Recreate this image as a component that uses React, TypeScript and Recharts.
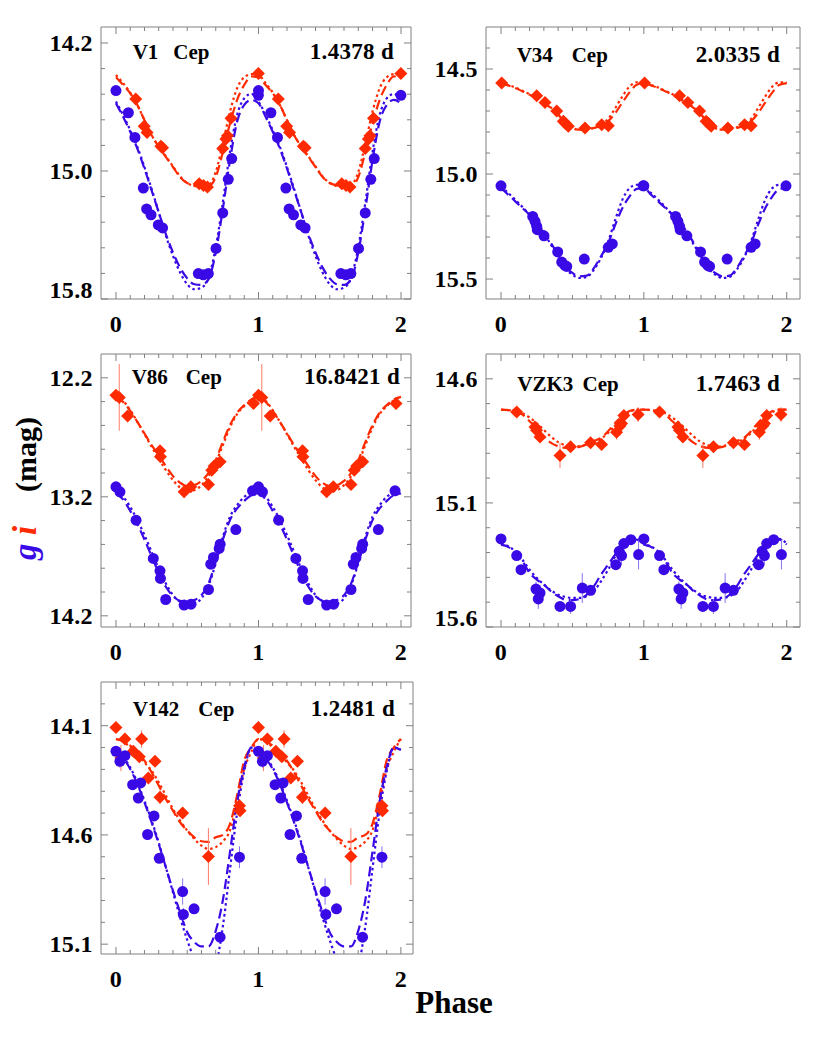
import React from 'react';
import { ComposedChart, Scatter, Line, XAxis, YAxis, ErrorBar } from 'recharts';

const RED = '#ff2a00';
const BLUE = '#3a0ae6';
const FRAME = '#808080';
const FONT = '"Liberation Serif", "Times New Roman", Times, serif';

// ---------- shared ----------
const fitPhase = [0, 0.05, 0.1, 0.15, 0.2, 0.25, 0.3, 0.35, 0.4, 0.45, 0.5, 0.55, 0.6, 0.65, 0.7, 0.75, 0.8, 0.85, 0.9, 0.95];
const xMajor = [0, 1, 2];
const xMinor = [0.1, 0.2, 0.3, 0.4, 0.5, 0.6, 0.7, 0.8, 0.9, 1.1, 1.2, 1.3, 1.4, 1.5, 1.6, 1.7, 1.8, 1.9];

// ---------- V1 Cep ----------
const v1PhaseI = [0.139, 0.198, 0.218, 0.315, 0.327, 0.584, 0.614, 0.642, 0.749, 0.771, 0.782, 0.807, 0.999];
const v1MagI = [14.55, 14.72, 14.76, 14.845, 14.855, 15.08, 15.09, 15.1, 14.86, 14.8, 14.78, 14.67, 14.39];
const v1PhaseG = [0.0, 0.087, 0.133, 0.192, 0.215, 0.246, 0.297, 0.327, 0.578, 0.613, 0.648, 0.702, 0.749, 0.788, 0.812, 0.999];
const v1MagG = [14.497, 14.636, 14.79, 15.107, 15.237, 15.274, 15.337, 15.356, 15.641, 15.649, 15.641, 15.484, 15.262, 15.052, 14.922, 14.527];
const v1DashI = [14.414, 14.462, 14.514, 14.587, 14.682, 14.776, 14.849, 14.912, 14.975, 15.038, 15.075, 15.09, 15.094, 15.094, 15.038, 14.881, 14.703, 14.556, 14.462, 14.409];
const v1DotI = [14.4, 14.451, 14.51, 14.587, 14.682, 14.776, 14.845, 14.908, 14.971, 15.034, 15.075, 15.094, 15.1, 15.09, 15.006, 14.828, 14.629, 14.483, 14.414, 14.395];
const v1DashG = [14.577, 14.661, 14.755, 14.86, 14.985, 15.121, 15.258, 15.394, 15.509, 15.604, 15.671, 15.708, 15.712, 15.676, 15.509, 15.237, 14.933, 14.692, 14.587, 14.556];
const v1DotG = [14.566, 14.65, 14.745, 14.849, 14.975, 15.111, 15.258, 15.404, 15.53, 15.635, 15.708, 15.739, 15.729, 15.666, 15.477, 15.195, 14.881, 14.65, 14.546, 14.518];

// ---------- V34 Cep ----------
const v34PhaseI = [0.005, 0.25, 0.308, 0.39, 0.436, 0.452, 0.471, 0.588, 0.705, 0.751];
const v34MagI = [14.567, 14.627, 14.659, 14.7, 14.749, 14.76, 14.773, 14.781, 14.765, 14.77];
const v34PhaseG = [0.0, 0.222, 0.238, 0.25, 0.254, 0.301, 0.397, 0.425, 0.448, 0.46, 0.583, 0.751, 0.779, 0.995];
const v34MagG = [15.056, 15.202, 15.225, 15.249, 15.265, 15.294, 15.371, 15.419, 15.435, 15.44, 15.405, 15.349, 15.333, 15.056];
const v34DashI = [14.567, 14.578, 14.59, 14.606, 14.622, 14.643, 14.662, 14.686, 14.717, 14.757, 14.781, 14.789, 14.789, 14.781, 14.77, 14.749, 14.71, 14.659, 14.611, 14.575];
const v34DotI = [14.565, 14.576, 14.588, 14.604, 14.62, 14.641, 14.66, 14.684, 14.717, 14.755, 14.781, 14.789, 14.787, 14.778, 14.762, 14.738, 14.686, 14.63, 14.583, 14.563];
const v34DashG = [15.067, 15.098, 15.13, 15.162, 15.194, 15.233, 15.273, 15.329, 15.384, 15.44, 15.471, 15.487, 15.484, 15.448, 15.392, 15.329, 15.241, 15.162, 15.106, 15.071];
const v34DotG = [15.059, 15.09, 15.122, 15.157, 15.194, 15.237, 15.281, 15.337, 15.392, 15.448, 15.479, 15.495, 15.49, 15.456, 15.4, 15.321, 15.217, 15.122, 15.067, 15.051];

// ---------- V86 Cep ----------
const v86PhaseI = [0.0, 0.023, 0.082, 0.309, 0.312, 0.478, 0.525, 0.649, 0.672, 0.689, 0.707, 0.731, 0.965];
const v86MagI = [12.346, 12.365, 12.522, 12.813, 12.864, 13.158, 13.116, 13.096, 12.976, 12.942, 12.925, 12.906, 12.416];
const v86ErrI = [0.02, 0.28, 0.02, 0.02, 0.03, 0.05, 0.02, 0.02, 0.04, 0.03, 0.04, 0.02, 0.02];
const v86PhaseG = [0.0, 0.028, 0.141, 0.262, 0.309, 0.312, 0.349, 0.478, 0.527, 0.649, 0.665, 0.684, 0.724, 0.731, 0.841, 0.958];
const v86MagG = [13.116, 13.158, 13.396, 13.718, 13.822, 13.886, 14.063, 14.11, 14.102, 13.979, 13.766, 13.71, 13.634, 13.598, 13.475, 13.15];
const v86DashI = [12.36, 12.402, 12.477, 12.57, 12.668, 12.766, 12.85, 12.942, 13.026, 13.082, 13.11, 13.102, 13.066, 12.998, 12.892, 12.738, 12.598, 12.494, 12.43, 12.382];
const v86DotI = [12.354, 12.393, 12.472, 12.57, 12.673, 12.78, 12.878, 12.976, 13.06, 13.122, 13.15, 13.144, 13.102, 13.026, 12.914, 12.766, 12.617, 12.505, 12.438, 12.388];
const v86DashG = [13.172, 13.222, 13.318, 13.43, 13.559, 13.699, 13.839, 13.956, 14.035, 14.074, 14.082, 14.068, 14.026, 13.928, 13.746, 13.559, 13.396, 13.298, 13.234, 13.186];
const v86DotG = [13.158, 13.2, 13.284, 13.396, 13.522, 13.662, 13.802, 13.928, 14.026, 14.082, 14.102, 14.096, 14.054, 13.942, 13.76, 13.536, 13.368, 13.27, 13.2, 13.166];

// ---------- VZK3 Cep ----------
const vzkPhaseI = [0.11, 0.238, 0.249, 0.273, 0.413, 0.487, 0.627, 0.704, 0.809, 0.832, 0.844, 0.86, 0.96];
const vzkMagI = [14.734, 14.794, 14.807, 14.834, 14.909, 14.874, 14.858, 14.865, 14.815, 14.79, 14.78, 14.748, 14.744];
const vzkErrI = [0.01, 0.01, 0.02, 0.01, 0.05, 0.01, 0.01, 0.01, 0.03, 0.04, 0.02, 0.01, 0.03];
const vzkPhaseG = [0.0, 0.11, 0.14, 0.245, 0.261, 0.273, 0.413, 0.487, 0.569, 0.627, 0.804, 0.828, 0.844, 0.86, 0.909, 0.963];
const vzkMagG = [15.245, 15.312, 15.369, 15.447, 15.487, 15.463, 15.517, 15.517, 15.443, 15.452, 15.349, 15.295, 15.312, 15.264, 15.248, 15.308];
const vzkErrG = [0.01, 0.01, 0.01, 0.03, 0.04, 0.01, 0.01, 0.03, 0.06, 0.01, 0.01, 0.01, 0.04, 0.01, 0.01, 0.06];
const vzkDashI = [14.724, 14.726, 14.73, 14.744, 14.771, 14.798, 14.834, 14.858, 14.872, 14.878, 14.878, 14.874, 14.865, 14.851, 14.838, 14.811, 14.777, 14.751, 14.73, 14.724];
const vzkDotI = [14.724, 14.726, 14.73, 14.739, 14.756, 14.779, 14.806, 14.833, 14.855, 14.868, 14.874, 14.871, 14.865, 14.855, 14.842, 14.818, 14.788, 14.757, 14.734, 14.724];
const vzkDashG = [15.268, 15.277, 15.302, 15.335, 15.382, 15.409, 15.429, 15.456, 15.476, 15.49, 15.492, 15.487, 15.47, 15.436, 15.389, 15.349, 15.308, 15.272, 15.248, 15.248];
const vzkDotG = [15.264, 15.275, 15.295, 15.329, 15.369, 15.402, 15.429, 15.452, 15.47, 15.479, 15.483, 15.483, 15.476, 15.456, 15.416, 15.369, 15.315, 15.275, 15.251, 15.245];

// ---------- V142 Cep ----------
const v142PhaseI = [0.0, 0.035, 0.063, 0.122, 0.164, 0.18, 0.227, 0.274, 0.309, 0.468, 0.649, 0.867, 0.871];
const v142MagI = [14.108, 14.248, 14.161, 14.217, 14.242, 14.161, 14.339, 14.263, 14.428, 14.5, 14.699, 14.466, 14.489];
const v142ErrI = [0.02, 0.06, 0.02, 0.02, 0.02, 0.04, 0.02, 0.02, 0.03, 0.02, 0.13, 0.03, 0.02];
const v142PhaseG = [0.0, 0.028, 0.063, 0.117, 0.157, 0.173, 0.222, 0.267, 0.304, 0.468, 0.473, 0.548, 0.731, 0.867];
const v142MagG = [14.217, 14.263, 14.237, 14.37, 14.431, 14.362, 14.598, 14.513, 14.707, 14.859, 14.964, 14.938, 15.068, 14.702];
const v142ErrG = [0.02, 0.03, 0.02, 0.02, 0.02, 0.02, 0.02, 0.02, 0.02, 0.06, 0.03, 0.02, 0.02, 0.05];
const v142DashI = [14.161, 14.172, 14.191, 14.222, 14.26, 14.313, 14.374, 14.435, 14.489, 14.542, 14.58, 14.611, 14.629, 14.632, 14.611, 14.6, 14.55, 14.42, 14.26, 14.2];
const v142DotI = [14.161, 14.172, 14.199, 14.23, 14.268, 14.306, 14.359, 14.42, 14.481, 14.534, 14.58, 14.618, 14.649, 14.664, 14.656, 14.63, 14.58, 14.45, 14.3, 14.22];
const v142DashG = [14.211, 14.248, 14.298, 14.367, 14.451, 14.542, 14.641, 14.748, 14.855, 14.954, 15.045, 15.09, 15.11, 15.11, 15.04, 14.9, 14.68, 14.45, 14.29, 14.2];
const v142DotG = [14.207, 14.242, 14.291, 14.359, 14.443, 14.534, 14.634, 14.748, 14.862, 14.977, 15.08, 15.17, 15.23, 15.25, 15.2, 15.02, 14.76, 14.5, 14.31, 14.2];

// ---------- helpers ----------
type Pt = { x: number; y: number; e: number };

function foldPoints(ph: number[], mag: number[], err?: number[]): Pt[] {
  const out: Pt[] = [];
  [0, 1].forEach((k) => ph.forEach((p, i) => out.push({ x: p + k, y: mag[i], e: err ? err[i] : 0 })));
  return out;
}

function foldCurve(mag: number[]) {
  const out: { x: number; y: number }[] = [];
  [0, 1].forEach((k) => fitPhase.forEach((p, i) => out.push({ x: p + k, y: mag[i] })));
  out.push({ x: 2, y: mag[0] });
  return out;
}

const near = (a: number, b: number) => Math.abs(a - b) < 1e-6;

const RedDiamond = (props: any) => {
  const { cx, cy } = props;
  if (cx == null || cy == null) return null;
  const r = 6.5;
  return <polygon points={`${cx},${cy - r} ${cx + r},${cy} ${cx},${cy + r} ${cx - r},${cy}`} fill={RED} />;
};
const BlueDot = (props: any) => {
  const { cx, cy } = props;
  if (cx == null || cy == null) return null;
  return <circle cx={cx} cy={cy} r={5.5} fill={BLUE} />;
};

const tickFont = { fontFamily: FONT, fontWeight: 700, fontSize: 24, letterSpacing: 0.4 };

type PanelProps = {
  left: number; top: number; pw: number; ph: number;
  xMax: number; yDom: [number, number]; yMajor: number[]; yMinor: number[];
  ptsI: Pt[]; ptsG: Pt[];
  dashI: number[]; dotI: number[]; dashG: number[]; dotG: number[];
};

function Panel(p: PanelProps) {
  const LW = 70;
  const BH = 45;
  const W = LW + p.pw + 1;
  const H = 1 + p.ph + BH;
  const yTicks = [...p.yMajor, ...p.yMinor].sort((a, b) => a - b);
  const xTicks = [...xMajor, ...xMinor].sort((a, b) => a - b);
  const isYMajor = (v: number) => p.yMajor.some((m) => near(m, v));
  const isXMajor = (v: number) => xMajor.some((m) => near(m, v));

  const leftTick = (t: any) => {
    const v = t.payload.value;
    const maj = isYMajor(v);
    const len = maj ? 7 : 4;
    const ty = near(v, p.yDom[1]) ? t.y - 1 : t.y + 8;
    return (
      <g>
        <line x1={t.x} y1={t.y} x2={t.x + len} y2={t.y} stroke={FRAME} strokeWidth={1} />
        {maj && (
          <text x={t.x - 8} y={ty} textAnchor="end" fill="#000" {...tickFont}>
            {v.toFixed(1)}
          </text>
        )}
      </g>
    );
  };
  const rightTick = (t: any) => {
    const v = t.payload.value;
    const len = isYMajor(v) ? 7 : 4;
    return <line x1={t.x} y1={t.y} x2={t.x - len} y2={t.y} stroke={FRAME} strokeWidth={1} />;
  };
  const bottomTick = (t: any) => {
    const v = t.payload.value;
    const maj = isXMajor(v);
    const len = maj ? 7 : 4;
    return (
      <g>
        <line x1={t.x} y1={t.y} x2={t.x} y2={t.y - len} stroke={FRAME} strokeWidth={1} />
        {maj && (
          <text x={t.x} y={t.y + 33} textAnchor="middle" fill="#000" {...tickFont}>
            {String(v)}
          </text>
        )}
      </g>
    );
  };
  const topTick = (t: any) => {
    const v = t.payload.value;
    const len = isXMajor(v) ? 7 : 4;
    return <line x1={t.x} y1={t.y} x2={t.x} y2={t.y + len} stroke={FRAME} strokeWidth={1} />;
  };

  const xDom: [number, number] = [-0.105, p.xMax];
  const lineCommon = { dataKey: 'y', type: 'monotone' as const, dot: false, activeDot: false, isAnimationActive: false, strokeWidth: 2.2 };

  return (
    <div style={{ position: 'absolute', left: p.left - LW, top: p.top - 1, width: W, height: H }}>
      <ComposedChart width={W} height={H} margin={{ top: 0, right: 0, bottom: 0, left: 0 }}>
        <XAxis dataKey="x" type="number" domain={xDom} allowDataOverflow ticks={xTicks} interval={0}
          orientation="bottom" height={BH} tickSize={0} tickMargin={0} tickLine={false}
          axisLine={{ stroke: FRAME }} tick={bottomTick} />
        <XAxis xAxisId="t" dataKey="x" type="number" domain={xDom} allowDataOverflow ticks={xTicks} interval={0}
          orientation="top" height={1} tickSize={0} tickMargin={0} tickLine={false}
          axisLine={{ stroke: FRAME }} tick={topTick} />
        <YAxis dataKey="y" type="number" domain={p.yDom} allowDataOverflow reversed ticks={yTicks} interval={0}
          orientation="left" width={LW} tickSize={0} tickMargin={0} tickLine={false}
          axisLine={{ stroke: FRAME }} tick={leftTick} />
        <YAxis yAxisId="r" dataKey="y" type="number" domain={p.yDom} allowDataOverflow reversed ticks={yTicks} interval={0}
          orientation="right" width={1} tickSize={0} tickMargin={0} tickLine={false}
          axisLine={{ stroke: FRAME }} tick={rightTick} />

        <Line {...lineCommon} data={foldCurve(p.dashI)} stroke={RED} strokeDasharray="10 5" />
        <Line {...lineCommon} data={foldCurve(p.dotI)} stroke={RED} strokeDasharray="2.5 3" />
        <Line {...lineCommon} data={foldCurve(p.dashG)} stroke={BLUE} strokeDasharray="10 5" />
        <Line {...lineCommon} data={foldCurve(p.dotG)} stroke={BLUE} strokeDasharray="2.5 3" />

        <Scatter data={p.ptsI} dataKey="y" shape={RedDiamond} isAnimationActive={false}>
          <ErrorBar dataKey="e" direction="y" width={0} stroke="#ff7a66" strokeWidth={1} />
        </Scatter>
        <Scatter data={p.ptsG} dataKey="y" shape={BlueDot} isAnimationActive={false}>
          <ErrorBar dataKey="e" direction="y" width={0} stroke="#8a70f0" strokeWidth={1} />
        </Scatter>
      </ComposedChart>
    </div>
  );
}

const nameFont = { fontFamily: FONT, fontWeight: 700, fontSize: 21 };
const periodFont = { fontFamily: FONT, fontWeight: 700, fontSize: 23, letterSpacing: 0.3 };

const panelLabels = [
  { name: 'V1', nx: 132.7, cx: 173.3, px: 394, by: 59.3, period: '1.4378 d' },
  { name: 'V34', nx: 516.7, cx: 571.7, px: 780, by: 61.7, period: '2.0335 d' },
  { name: 'V86', nx: 131.7, cx: 185.7, px: 400, by: 384.3, period: '16.8421 d' },
  { name: 'VZK3', nx: 517.3, cx: 582.5, px: 780, by: 390.7, period: '1.7463 d' },
  { name: 'V142', nx: 132.7, cx: 198.3, px: 395, by: 715.7, period: '1.2481 d' },
];

const yLabelFont = { fontFamily: FONT, fontWeight: 700, fontSize: 30 };

export default function App() {
  return (
    <div style={{ position: 'absolute', left: 0, top: 0, width: 830, height: 1038, background: '#fff', overflow: 'hidden' }}>
      <Panel left={101} top={27} pw={310} ph={272} xMax={2.07} yDom={[14.1, 15.8]}
        yMajor={[14.2, 15.0, 15.8]} yMinor={[14.36, 14.52, 14.68, 14.84, 15.16, 15.32, 15.48, 15.64]}
        ptsI={foldPoints(v1PhaseI, v1MagI)} ptsG={foldPoints(v1PhaseG, v1MagG)}
        dashI={v1DashI} dotI={v1DotI} dashG={v1DashG} dotG={v1DotG} />
      <Panel left={486} top={27} pw={314} ph={272} xMax={2.093} yDom={[14.3, 15.595]}
        yMajor={[14.5, 15.0, 15.5]} yMinor={[14.4, 14.6, 14.7, 14.8, 14.9, 15.1, 15.2, 15.3, 15.4]}
        ptsI={foldPoints(v34PhaseI, v34MagI)} ptsG={foldPoints(v34PhaseG, v34MagG)}
        dashI={v34DashI} dotI={v34DotI} dashG={v34DashG} dotG={v34DotG} />
      <Panel left={101} top={354} pw={310} ph={273} xMax={2.07} yDom={[12.0, 14.294]}
        yMajor={[12.2, 13.2, 14.2]} yMinor={[12.4, 12.6, 12.8, 13.0, 13.4, 13.6, 13.8, 14.0]}
        ptsI={foldPoints(v86PhaseI, v86MagI, v86ErrI)} ptsG={foldPoints(v86PhaseG, v86MagG)}
        dashI={v86DashI} dotI={v86DotI} dashG={v86DashG} dotG={v86DotG} />
      <Panel left={486} top={354} pw={314} ph={273} xMax={2.093} yDom={[14.5, 15.6]}
        yMajor={[14.6, 15.1, 15.6]} yMinor={[14.7, 14.8, 14.9, 15.0, 15.2, 15.3, 15.4, 15.5]}
        ptsI={foldPoints(vzkPhaseI, vzkMagI, vzkErrI)} ptsG={foldPoints(vzkPhaseG, vzkMagG, vzkErrG)}
        dashI={vzkDashI} dotI={vzkDotI} dashG={vzkDashG} dotG={vzkDotG} />
      <Panel left={101} top={682} pw={312} ph={272} xMax={2.085} yDom={[13.9, 15.145]}
        yMajor={[14.1, 14.6, 15.1]} yMinor={[14.0, 14.2, 14.3, 14.4, 14.5, 14.7, 14.8, 14.9, 15.0]}
        ptsI={foldPoints(v142PhaseI, v142MagI, v142ErrI)} ptsG={foldPoints(v142PhaseG, v142MagG, v142ErrG)}
        dashI={v142DashI} dotI={v142DotI} dashG={v142DashG} dotG={v142DotG} />

      <svg width={830} height={1038} style={{ position: 'absolute', left: 0, top: 0, pointerEvents: 'none' }}>
        {panelLabels.map((l) => (
          <g key={l.name}>
            <text x={l.nx} y={l.by} fill="#000" {...nameFont}>
              {l.name}
              <tspan x={l.cx}>Cep</tspan>
            </text>
            <text x={l.px} y={l.by} textAnchor="end" fill="#000" {...periodFont}>
              {l.period}
            </text>
          </g>
        ))}
        <text x={454} y={1013} textAnchor="middle" fill="#000" fontFamily={FONT} fontWeight={700} fontSize={31}>
          Phase
        </text>
        <g transform="rotate(-90)">
          <text x={-560} y={36} fill={BLUE} fontStyle="italic" {...yLabelFont} fontSize={33}>g</text>
          <text x={-535} y={36} fill={RED} fontStyle="italic" {...yLabelFont} fontSize={33}>i</text>
          <text x={-492} y={36} fill="#000" {...yLabelFont}>(mag)</text>
        </g>
      </svg>
    </div>
  );
}
